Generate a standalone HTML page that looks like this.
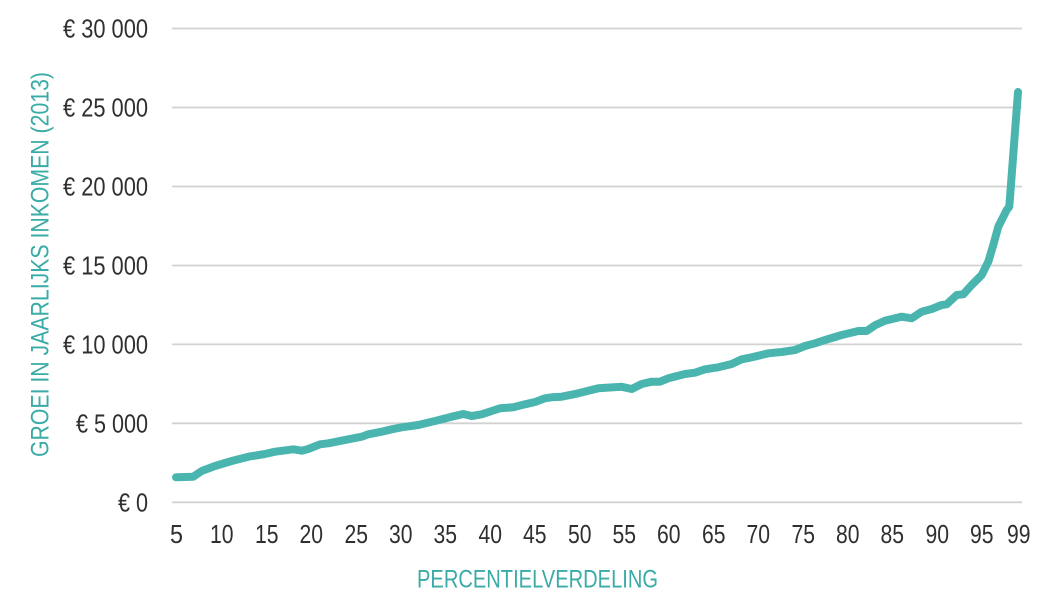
<!DOCTYPE html>
<html>
<head>
<meta charset="utf-8">
<style>
  html, body { margin: 0; padding: 0; background: #ffffff; }
  body { width: 1057px; height: 598px; overflow: hidden; }
  svg { display: block; }
  .tick { font-family: "Liberation Sans", sans-serif; font-size: 26px; fill: #2f2f2f; }
  .title { font-family: "Liberation Sans", sans-serif; font-size: 25px; fill: #3aaba6; }
</style>
</head>
<body>
<svg width="1057" height="598" viewBox="0 0 1057 598" xmlns="http://www.w3.org/2000/svg">
  <!-- gridlines -->
  <g stroke="#d2d2d2" stroke-width="1.8">
    <line x1="172" y1="28.5" x2="1022" y2="28.5"/>
    <line x1="172" y1="107.5" x2="1022" y2="107.5"/>
    <line x1="172" y1="186.5" x2="1022" y2="186.5"/>
    <line x1="172" y1="265.5" x2="1022" y2="265.5"/>
    <line x1="172" y1="344.4" x2="1022" y2="344.4"/>
    <line x1="172" y1="423.3" x2="1022" y2="423.3"/>
    <line x1="172" y1="502.3" x2="1022" y2="502.3"/>
  </g>

  <!-- y tick labels -->
  <g class="tick" text-anchor="end">
    <text x="148" y="37.5" textLength="85" lengthAdjust="spacingAndGlyphs">€ 30 000</text>
    <text x="148" y="116.5" textLength="85" lengthAdjust="spacingAndGlyphs">€ 25 000</text>
    <text x="148" y="195.5" textLength="85" lengthAdjust="spacingAndGlyphs">€ 20 000</text>
    <text x="148" y="274.5" textLength="85" lengthAdjust="spacingAndGlyphs">€ 15 000</text>
    <text x="148" y="353.4" textLength="85" lengthAdjust="spacingAndGlyphs">€ 10 000</text>
    <text x="148" y="432.3" textLength="72" lengthAdjust="spacingAndGlyphs">€ 5 000</text>
    <text x="148" y="511.3" textLength="30" lengthAdjust="spacingAndGlyphs">€ 0</text>
  </g>

  <!-- x tick labels -->
  <g class="tick">
    <text x="170" y="543" textLength="13" lengthAdjust="spacingAndGlyphs">5</text>
    <text x="210" y="543" textLength="23.5" lengthAdjust="spacingAndGlyphs">10</text>
    <text x="255" y="543" textLength="23.5" lengthAdjust="spacingAndGlyphs">15</text>
    <text x="299.5" y="543" textLength="23.5" lengthAdjust="spacingAndGlyphs">20</text>
    <text x="344.5" y="543" textLength="23.5" lengthAdjust="spacingAndGlyphs">25</text>
    <text x="389" y="543" textLength="23.5" lengthAdjust="spacingAndGlyphs">30</text>
    <text x="433.5" y="543" textLength="23.5" lengthAdjust="spacingAndGlyphs">35</text>
    <text x="478.5" y="543" textLength="23.5" lengthAdjust="spacingAndGlyphs">40</text>
    <text x="523" y="543" textLength="23.5" lengthAdjust="spacingAndGlyphs">45</text>
    <text x="568" y="543" textLength="23.5" lengthAdjust="spacingAndGlyphs">50</text>
    <text x="612.5" y="543" textLength="23.5" lengthAdjust="spacingAndGlyphs">55</text>
    <text x="657" y="543" textLength="23.5" lengthAdjust="spacingAndGlyphs">60</text>
    <text x="702" y="543" textLength="23.5" lengthAdjust="spacingAndGlyphs">65</text>
    <text x="746.5" y="543" textLength="23.5" lengthAdjust="spacingAndGlyphs">70</text>
    <text x="791.5" y="543" textLength="23.5" lengthAdjust="spacingAndGlyphs">75</text>
    <text x="836" y="543" textLength="23.5" lengthAdjust="spacingAndGlyphs">80</text>
    <text x="880.5" y="543" textLength="23.5" lengthAdjust="spacingAndGlyphs">85</text>
    <text x="925.5" y="543" textLength="23.5" lengthAdjust="spacingAndGlyphs">90</text>
    <text x="970" y="543" textLength="23.5" lengthAdjust="spacingAndGlyphs">95</text>
    <text x="1007" y="543" textLength="23.5" lengthAdjust="spacingAndGlyphs">99</text>
  </g>

  <!-- axis titles -->
  <text class="title" x="417" y="587.5" textLength="241" lengthAdjust="spacingAndGlyphs">PERCENTIELVERDELING</text>
  <text class="title" transform="translate(48.5,457) rotate(-90)" x="0" y="0" textLength="385" lengthAdjust="spacingAndGlyphs">GROEI IN JAARLIJKS INKOMEN (2013)</text>

  <!-- data line -->
  <polyline fill="none" stroke="#4ab5af" stroke-width="8" stroke-linejoin="round" stroke-linecap="round"
    points="176,477.3 193.3,476.7 201.7,471 215,466 231.7,461 248.3,456.7 265,454 275,451.7 293.3,449.3 301.7,450.7 308.3,449 320,444.3 328.3,443.3 348.3,439.3 361.7,436.7 368.3,434.3 381.7,431.7 391.7,429.3 401.7,427.3 418.3,425 435,421 451.7,416.7 463.3,414 471.7,416 481.7,414.3 491.7,411 500,408.3 513.3,407.3 525,404.3 535,402 545,398.3 551.7,397.3 561.7,396.7 578.3,393.3 588.3,390.7 598.3,388.3 610,387.5 621.7,386.8 631.7,389 641.7,384 651.7,381.7 660,381.7 668.3,378.3 685,374 695,372.7 705,369.3 718.3,367.3 731.7,364 741.7,359.3 751.7,357.3 768.3,353.3 781.7,352 795,350 805,346 815,343.3 825,340 841.7,335 858.3,331 866.7,331 875,325.3 885,320.7 901.7,316.7 911.7,318.3 921.7,311.7 931.7,309 941.7,305 946.7,304.3 956.7,295 963.3,294.3 971.7,285 981.7,275 988.3,261.7 993.3,245 998.3,226.7 1006.7,210 1009.3,206.7 1018,92"/>
</svg>
</body>
</html>
